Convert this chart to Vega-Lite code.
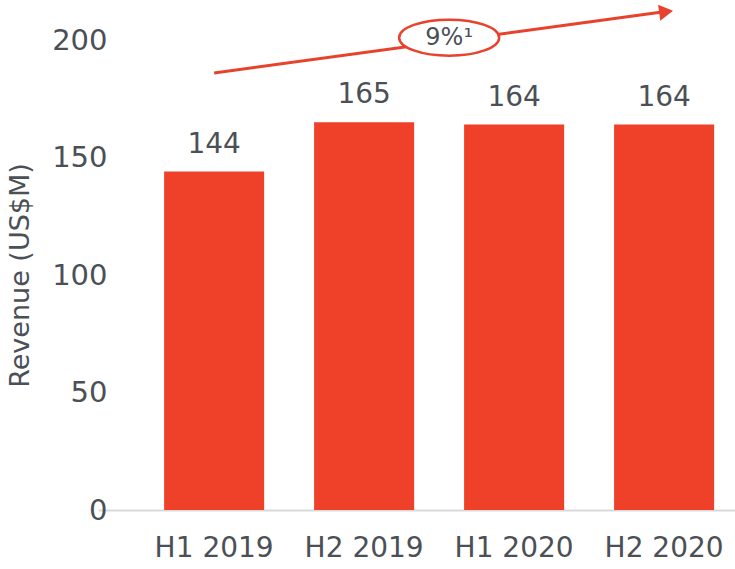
{
  "$schema": "https://vega.github.io/schema/vega-lite/v6.json",
  "width": 637,
  "height": 470,
  "autosize": {"type": "none"},
  "padding": {"left": 98, "top": 40, "right": 0, "bottom": 59},
  "background": "white",
  "config": {
    "view": {"stroke": null},
    "font": "DejaVu Sans",
    "axis": {"grid": false, "labelFont": "DejaVu Sans", "titleFont": "DejaVu Sans"}
  },
  "datasets": {
    "bars": [
      {"period": "H1 2019", "revenue": 144},
      {"period": "H2 2019", "revenue": 165},
      {"period": "H1 2020", "revenue": 164},
      {"period": "H2 2020", "revenue": 164}
    ],
    "trend": [
      {"period": "H1 2019", "level": 186},
      {"period": "H2 2020", "level": 212}
    ],
    "head": [
      {"period": "H2 2020", "level": 212}
    ],
    "badge": [
      {"period": "H2 2019", "level": 201, "label": "9%¹"}
    ]
  },
  "encoding": {
    "x": {
      "field": "period",
      "type": "nominal",
      "sort": ["H1 2019", "H2 2019", "H1 2020", "H2 2020"],
      "scale": {"paddingInner": 0.333, "paddingOuter": 0.29, "align": 0.76},
      "axis": {
        "title": null,
        "labelAngle": 0,
        "ticks": false,
        "labelPadding": 24,
        "labelFontSize": 28,
        "labelColor": "#4b5056",
        "domainColor": "#d9d9d9",
        "domainWidth": 2
      }
    }
  },
  "layer": [
    {
      "data": {"name": "bars"},
      "mark": {"type": "bar", "color": "#EF4129"},
      "encoding": {
        "y": {
          "field": "revenue",
          "type": "quantitative",
          "scale": {"domain": [0, 200], "nice": false},
          "axis": {
            "title": "Revenue (US$M)",
            "values": [0, 50, 100, 150, 200],
            "domain": false,
            "ticks": false,
            "labelPadding": -9,
            "labelFontSize": 29,
            "labelColor": "#4b5056",
            "titleFontSize": 27,
            "titleFontWeight": "normal",
            "titleColor": "#4b5056",
            "titleX": -78,
            "titleY": 235,
            "titleAngle": -90,
            "titleAlign": "center",
            "titleBaseline": "middle"
          }
        }
      }
    },
    {
      "data": {"name": "bars"},
      "mark": {"type": "text", "fontSize": 28, "color": "#4b5056", "baseline": "alphabetic", "dy": -19},
      "encoding": {
        "y": {"field": "revenue", "type": "quantitative"},
        "text": {"field": "revenue", "type": "quantitative"}
      }
    },
    {
      "data": {"name": "trend"},
      "mark": {"type": "line", "color": "#E8412C", "strokeWidth": 3},
      "encoding": {
        "y": {"field": "level", "type": "quantitative"}
      }
    },
    {
      "data": {"name": "head"},
      "mark": {"type": "point", "shape": "triangle-right", "filled": true, "color": "#E8412C", "size": 260, "angle": 352.3, "opacity": 1},
      "encoding": {
        "x": {"field": "period", "type": "nominal", "bandPosition": 0.52},
        "y": {"field": "level", "type": "quantitative"}
      }
    },
    {
      "data": {"name": "badge"},
      "mark": {"type": "point", "shape": "M-1,0 A1,0.36 0 1,1 1,0 A1,0.36 0 1,1 -1,0 Z", "filled": true, "fill": "white", "fillOpacity": 1, "stroke": "#E8412C", "strokeWidth": 2.5, "strokeOpacity": 1, "size": 10000, "opacity": 1},
      "encoding": {
        "x": {"field": "period", "type": "nominal", "bandPosition": 1.35},
        "y": {"field": "level", "type": "quantitative"}
      }
    },
    {
      "data": {"name": "badge"},
      "mark": {"type": "text", "fontSize": 24, "color": "#4b5056", "baseline": "middle"},
      "encoding": {
        "x": {"field": "period", "type": "nominal", "bandPosition": 1.35},
        "y": {"field": "level", "type": "quantitative"},
        "text": {"field": "label", "type": "nominal"}
      }
    }
  ]
}
